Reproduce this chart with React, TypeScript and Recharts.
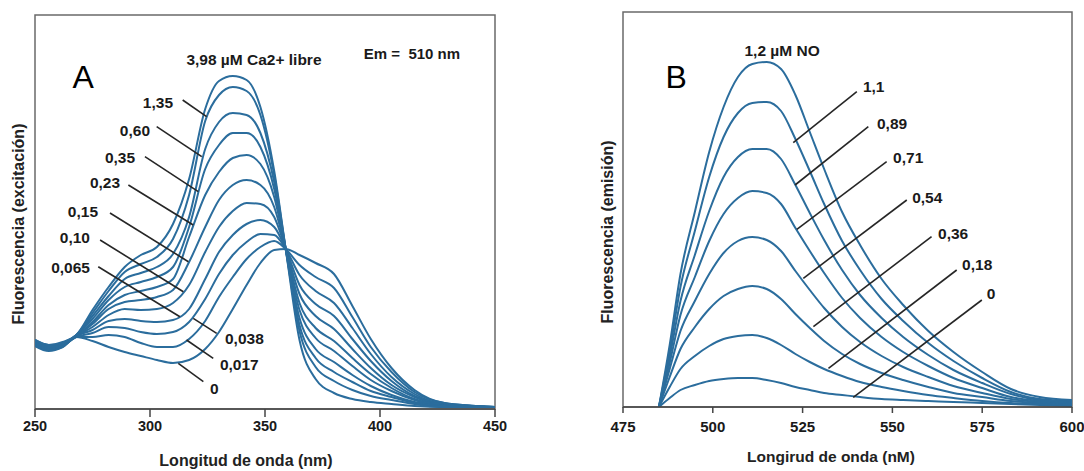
import { LineChart, Line, XAxis, YAxis, ReferenceLine, ReferenceDot, ReferenceArea } from 'recharts';

const FONT = '"Liberation Sans", Arial, Helvetica, sans-serif';
const BLUE = '#2b6d9d';
const INK = '#1a1a1a';

// ---- Panel A: excitation spectra vs free Ca2+ ----
const nmA = [250, 256, 262, 268, 275, 282, 289, 296, 303, 310, 317, 324, 330, 336, 342, 348, 354, 359, 365, 372, 380, 388, 396, 405, 415, 428, 450];

const ca0 = [61, 56, 60, 70, 66, 60, 55, 51, 47, 44, 47, 58, 75, 98, 122, 144, 157, 158, 152, 144, 133, 101, 68, 39, 17, 4, 0];
const ca017 = [62, 57, 60, 70, 70, 72, 70, 64, 60, 60, 68, 86, 110, 130, 148, 160, 166, 158, 142, 130, 119, 90, 60, 35, 15, 4, 0];
const ca038 = [62, 57, 61, 70, 74, 80, 79, 75, 73, 75, 85, 108, 133, 152, 165, 173, 172, 158, 132, 116, 104, 79, 53, 30, 13, 3, 0];
const ca065 = [63, 58, 61, 71, 77, 86, 88, 86, 85, 87, 98, 128, 155, 172, 183, 187, 180, 158, 122, 103, 91, 68, 46, 26, 11, 3, 0];
const ca10 = [63, 58, 62, 71, 80, 92, 98, 97, 98, 104, 122, 155, 180, 196, 204, 203, 190, 158, 113, 91, 78, 58, 39, 22, 10, 2, 0];
const ca15 = [64, 59, 62, 71, 83, 98, 105, 107, 110, 117, 145, 180, 207, 222, 227, 222, 200, 158, 104, 79, 66, 49, 33, 19, 8, 2, 0];
const ca23 = [65, 60, 63, 71, 85, 102, 112, 116, 120, 128, 170, 212, 235, 249, 252, 243, 210, 158, 97, 69, 56, 41, 27, 16, 7, 1, 0];
const ca35 = [65, 60, 63, 72, 88, 107, 120, 125, 130, 140, 180, 238, 262, 274, 274, 260, 218, 158, 89, 58, 45, 32, 21, 12, 5, 1, 0];
const ca60 = [66, 61, 64, 72, 91, 111, 128, 134, 140, 153, 190, 258, 285, 294, 292, 274, 225, 158, 82, 49, 35, 25, 16, 10, 4, 1, 0];
const ca135 = [67, 62, 64, 72, 94, 116, 135, 143, 150, 168, 212, 286, 312, 320, 316, 292, 232, 158, 76, 40, 26, 17, 11, 7, 3, 0, 0];
const ca398 = [67, 62, 65, 72, 97, 120, 140, 152, 160, 183, 228, 298, 326, 331, 327, 300, 236, 158, 67, 28, 14, 8, 5, 3, 1, 0, 0];

const seriesA = [ca0, ca017, ca038, ca065, ca10, ca15, ca23, ca35, ca60, ca135, ca398];
const ticksA = [250, 300, 350, 400, 450];

// leader lines (data coords) and their labels
const leadersA = [
  [314.2, 307, 324.6, 290.3],
  [302.9, 280.3, 322.5, 250.3],
  [297.8, 250.3, 321.0, 215.3],
  [290.6, 222, 318.8, 182],
  [282.6, 194, 316.7, 145.3],
  [278.3, 167, 314.5, 115.3],
  [277.5, 140.3, 313.0, 90.3],
  [329.0, 73.7, 318.8, 88.7],
  [327.5, 48.7, 315.9, 67],
  [323.2, 25.3, 312.3, 43.7],
];
const labelsA = [
  { text: '1,35', x: 310.0, y: 305, anchor: 'end' },
  { text: '0,60', x: 300.0, y: 277, anchor: 'end' },
  { text: '0,35', x: 293.5, y: 250, anchor: 'end' },
  { text: '0,23', x: 287.0, y: 225, anchor: 'end' },
  { text: '0,15', x: 277.4, y: 196, anchor: 'end' },
  { text: '0,10', x: 273.9, y: 170, anchor: 'end' },
  { text: '0,065', x: 273.9, y: 140, anchor: 'end' },
  { text: '0,038', x: 332.6, y: 69, anchor: 'start' },
  { text: '0,017', x: 330.4, y: 43, anchor: 'start' },
  { text: '0', x: 326.1, y: 19, anchor: 'start' },
  { text: '3,98 µM Ca2+ libre', x: 345.2, y: 348, anchor: 'middle', size: 15.5 },
  { text: 'Em =\u00A0 510 nm', x: 413.9, y: 354, anchor: 'middle', size: 15 },
  { text: 'A', x: 270.9, y: 330, anchor: 'middle', size: 32, regular: true },
];

// ---- Panel B: emission spectra vs NO ----
const nmB = [485, 488, 491, 495, 499, 503, 507, 511, 515, 519, 523, 527, 531, 536, 541, 547, 553, 560, 567, 575, 583, 591, 600];

const no12 = [0, 62, 133, 195, 255, 300, 330, 343, 345, 338, 312, 275, 238, 195, 162, 128, 102, 76, 55, 35, 18, 10, 7];
const no11 = [0, 56, 120, 176, 230, 270, 294, 304, 305, 296, 268, 236, 203, 166, 137, 108, 86, 64, 46, 29, 15, 8, 6];
const no089 = [0, 50, 106, 152, 196, 230, 250, 258, 258, 248, 222, 194, 167, 137, 112, 89, 70, 52, 37, 24, 13, 7, 5];
const no071 = [0, 44, 92, 130, 166, 193, 209, 216, 214, 203, 179, 156, 134, 109, 89, 70, 55, 41, 29, 19, 10, 6, 4];
const no054 = [0, 38, 76, 106, 133, 154, 166, 170, 167, 156, 136, 117, 99, 80, 65, 51, 40, 30, 21, 14, 8, 5, 3];
const no036 = [0, 30, 58, 80, 98, 111, 118, 121, 118, 108, 93, 79, 66, 53, 43, 34, 27, 20, 14, 10, 6, 4, 2];
const no018 = [0, 20, 38, 51, 61, 68, 71, 72, 69, 62, 53, 45, 38, 31, 25, 20, 16, 12, 9, 6, 4, 3, 2];
const no0 = [0, 9, 17, 22, 26, 28, 29, 29, 27, 24, 20, 17, 14, 12, 10, 8, 7, 6, 5, 4, 3, 2, 1];

const seriesB = [no0, no018, no036, no054, no071, no089, no11, no12];
const ticksB = [475, 500, 525, 550, 575, 600];

const leadersB = [
  [540.1, 315.3, 522.4, 264.3],
  [543.3, 280.3, 522.9, 222],
  [548.4, 245.3, 523.4, 177.7],
  [554.0, 207, 525.2, 128.7],
  [560.9, 170.3, 528.0, 80.3],
  [567.9, 137, 532.2, 38.7],
  [574.9, 107, 539.1, 9.7],
];
const labelsB = [
  { text: '1,1', x: 541.8, y: 321, anchor: 'start' },
  { text: '0,89', x: 545.7, y: 284, anchor: 'start' },
  { text: '0,71', x: 550.2, y: 250, anchor: 'start' },
  { text: '0,54', x: 555.5, y: 210, anchor: 'start' },
  { text: '0,36', x: 562.7, y: 174, anchor: 'start' },
  { text: '0,18', x: 569.4, y: 143, anchor: 'start' },
  { text: '0', x: 576.3, y: 114, anchor: 'start' },
  { text: '1,2 µM NO', x: 519.3, y: 357, anchor: 'middle', size: 15.5 },
  { text: 'B', x: 489.8, y: 330, anchor: 'middle', size: 32, regular: true },
];

const buildRows = (xs: number[], series: number[][]) =>
  xs.map((x, i) => {
    const row: any = { nm: x };
    series.forEach((s, k) => { row['s' + k] = s[i]; });
    return row;
  });

const dataA = buildRows(nmA, seriesA);
const dataB = buildRows(nmB, seriesB);

function renderLabel(l: any) {
  return (p: any) => (
    <text
      x={p.cx}
      y={p.cy}
      textAnchor={l.anchor}
      dominantBaseline="central"
      fontFamily={FONT}
      fontWeight={l.regular ? 'normal' : 'bold'}
      fontSize={l.size || 15.5}
      fill={l.regular ? '#000' : INK}
    >
      {l.text}
    </text>
  );
}

interface PanelProps {
  data: any[];
  count: number;
  width: number;
  margin: any;
  xDomain: [number, number];
  yDomain: [number, number];
  ticks: number[];
  tickSize: number;
  tickMargin: number;
  tickFont: number;
  axisHeight: number;
  leaders: number[][];
  labels: any[];
}

function Panel({ data, count, width, margin, xDomain, yDomain, ticks, tickSize, tickMargin, tickFont, axisHeight, leaders, labels }: PanelProps) {
  return (
    <LineChart width={width} height={471} data={data} margin={margin}>
      <XAxis
        dataKey="nm"
        type="number"
        domain={xDomain}
        allowDataOverflow
        ticks={ticks}
        height={axisHeight}
        tickSize={tickSize}
        tickMargin={tickMargin}
        tick={{ fontSize: tickFont, fontWeight: 'bold', fill: INK, fontFamily: FONT }}
        axisLine={{ stroke: '#444', strokeWidth: 1.5 }}
        tickLine={{ stroke: '#444', strokeWidth: 1.5 }}
      />
      <YAxis hide type="number" domain={yDomain} allowDataOverflow />
      <ReferenceArea
        x1={xDomain[0]}
        x2={xDomain[1]}
        y1={yDomain[0]}
        y2={yDomain[1]}
        fill="none"
        fillOpacity={0}
        stroke="#6a6a6a"
        strokeWidth={1.5}
        ifOverflow="visible"
      />
      {Array.from({ length: count }).map((_, k) => (
        <Line
          key={k}
          type="monotone"
          dataKey={'s' + k}
          stroke={BLUE}
          strokeWidth={2}
          dot={false}
          activeDot={false}
          isAnimationActive={false}
        />
      ))}
      {leaders.map((s, i) => (
        <ReferenceLine
          key={'ld' + i}
          segment={[{ x: s[0], y: s[1] }, { x: s[2], y: s[3] }]}
          stroke="#262626"
          strokeWidth={1.6}
          ifOverflow="visible"
        />
      ))}
      {labels.map((l, i) => (
        <ReferenceDot key={'lb' + i} x={l.x} y={l.y} r={0} ifOverflow="visible" shape={renderLabel(l)} />
      ))}
    </LineChart>
  );
}

const titleStyle = { fontFamily: FONT, fontWeight: 'bold', fill: '#222' } as any;

export default function App() {
  return (
    <div style={{ position: 'absolute', left: 0, top: 0, width: 1084, height: 471, background: '#fff' }}>
      <div style={{ position: 'absolute', left: 0, top: 0 }}>
        <Panel
          data={dataA}
          count={seriesA.length}
          width={510}
          margin={{ top: 15, right: 15, bottom: 0, left: 35 }}
          xDomain={[250, 450]}
          yDomain={[-2, 392]}
          ticks={ticksA}
          tickSize={8}
          tickMargin={4}
          tickFont={14.5}
          axisHeight={62}
          leaders={leadersA}
          labels={labelsA}
        />
      </div>
      <div style={{ position: 'absolute', left: 580, top: 0 }}>
        <Panel
          data={dataB}
          count={seriesB.length}
          width={504}
          margin={{ top: 12, right: 12, bottom: 0, left: 43 }}
          xDomain={[475, 600]}
          yDomain={[0, 395]}
          ticks={ticksB}
          tickSize={6}
          tickMargin={8}
          tickFont={15}
          axisHeight={64}
          leaders={leadersB}
          labels={labelsB}
        />
      </div>
      <svg width={1084} height={471} style={{ position: 'absolute', left: 0, top: 0, pointerEvents: 'none' }}>
        <text x={246} y={460} fontSize={16} textAnchor="middle" dominantBaseline="central" {...titleStyle}>Longitud de onda (nm)</text>
        <text x={18} y={224} fontSize={16} textAnchor="middle" dominantBaseline="central" transform="rotate(-90 18 224)" {...titleStyle}>Fluorescencia (excitación)</text>
        <text x={831} y={456} fontSize={15.5} textAnchor="middle" dominantBaseline="central" {...titleStyle}>Longirud de onda (nM)</text>
        <text x={607} y={232} fontSize={16} textAnchor="middle" dominantBaseline="central" transform="rotate(-90 607 232)" {...titleStyle}>Fluorescencia (emisión)</text>
      </svg>
    </div>
  );
}
